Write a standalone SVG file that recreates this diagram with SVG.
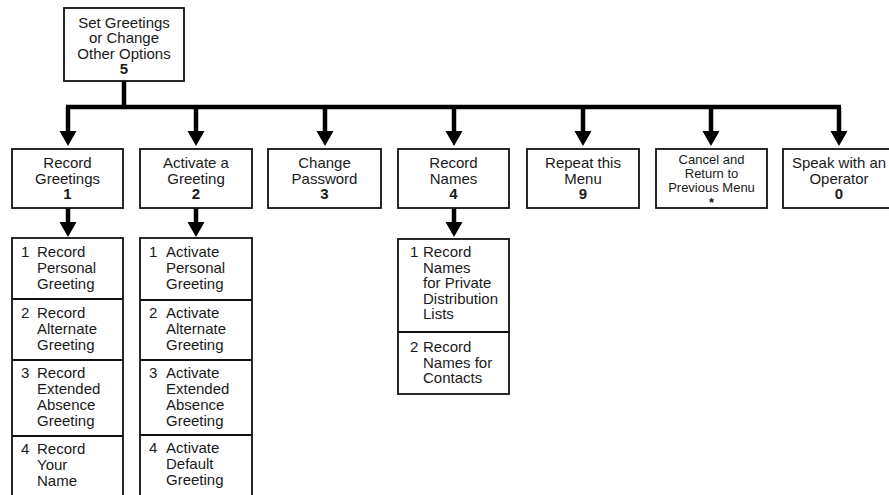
<svg xmlns="http://www.w3.org/2000/svg" width="889" height="495" viewBox="0 0 889 495">
<style>
  .box{fill:#fff;stroke:#111;stroke-width:1.8}
  .div{stroke:#111;stroke-width:1.8}
  text{font-family:"Liberation Sans",Arial,Helvetica,sans-serif;font-size:15px;fill:#1a1a1a}
  .c{text-anchor:middle}
  .b{font-weight:bold}
  .s{font-size:13px}
  .conn line{stroke:#000;stroke-width:4.5}
  .ah{fill:#000}
</style>
<defs>
  <path id="ah" class="ah" d="M-8.5,-15 L8.5,-15 L0,0 Z"/>
</defs>
<rect width="889" height="495" fill="#fff"/>

<g id="connectors" class="conn">
  <line x1="124" y1="81" x2="124" y2="109"/>
  <line x1="66" y1="107" x2="841" y2="107"/>
  <line x1="68" y1="107" x2="68" y2="132"/>
  <line x1="196" y1="107" x2="196" y2="132"/>
  <line x1="325" y1="107" x2="325" y2="132"/>
  <line x1="454" y1="107" x2="454" y2="132"/>
  <line x1="583" y1="107" x2="583" y2="132"/>
  <line x1="711" y1="107" x2="711" y2="132"/>
  <line x1="839" y1="107" x2="839" y2="132"/>
  <use href="#ah" x="68" y="146"/>
  <use href="#ah" x="196" y="146"/>
  <use href="#ah" x="325" y="146"/>
  <use href="#ah" x="454" y="146"/>
  <use href="#ah" x="583" y="146"/>
  <use href="#ah" x="711" y="146"/>
  <use href="#ah" x="839" y="146"/>
  <line x1="68" y1="208" x2="68" y2="223"/>
  <line x1="196" y1="208" x2="196" y2="223"/>
  <line x1="454" y1="208" x2="454" y2="223"/>
  <use href="#ah" x="68" y="237"/>
  <use href="#ah" x="196" y="237"/>
  <use href="#ah" x="454" y="237"/>
</g>

<g id="n-root">
  <rect class="box" x="64" y="8" width="120" height="73"/>
  <text class="c" x="124" y="27.5">Set Greetings</text>
  <text class="c" x="124" y="43">or Change</text>
  <text class="c" x="124" y="58.5">Other Options</text>
  <text class="c b" x="124" y="74">5</text>
</g>

<g id="n1">
  <rect class="box" x="12" y="149" width="111" height="59"/>
  <text class="c" x="67.5" y="168">Record</text>
  <text class="c" x="67.5" y="183.5">Greetings</text>
  <text class="c b" x="67.5" y="199">1</text>
</g>
<g id="n2">
  <rect class="box" x="140" y="149" width="112" height="59"/>
  <text class="c" x="196" y="168">Activate a</text>
  <text class="c" x="196" y="183.5">Greeting</text>
  <text class="c b" x="196" y="199">2</text>
</g>
<g id="n3">
  <rect class="box" x="268" y="149" width="113" height="59"/>
  <text class="c" x="324.5" y="168">Change</text>
  <text class="c" x="324.5" y="183.5">Password</text>
  <text class="c b" x="324.5" y="199">3</text>
</g>
<g id="n4">
  <rect class="box" x="398" y="149" width="111" height="59"/>
  <text class="c" x="453.5" y="168">Record</text>
  <text class="c" x="453.5" y="183.5">Names</text>
  <text class="c b" x="453.5" y="199">4</text>
</g>
<g id="n9">
  <rect class="box" x="527" y="149" width="112" height="59"/>
  <text class="c" x="583" y="168">Repeat this</text>
  <text class="c" x="583" y="183.5">Menu</text>
  <text class="c b" x="583" y="199">9</text>
</g>
<g id="nstar">
  <rect class="box" x="656" y="149" width="111" height="59"/>
  <text class="c s" x="711.5" y="163.5">Cancel and</text>
  <text class="c s" x="711.5" y="177.5">Return to</text>
  <text class="c s" x="711.5" y="191.5">Previous Menu</text>
  <text class="c b s" x="711.5" y="207">*</text>
</g>
<g id="n0">
  <rect class="box" x="783" y="149" width="112" height="59"/>
  <text class="c" x="839" y="168">Speak with an</text>
  <text class="c" x="839" y="183.5">Operator</text>
  <text class="c b" x="839" y="199">0</text>
</g>

<g id="n1-sub">
  <rect class="box" x="12" y="238" width="111" height="270"/>
  <line class="div" x1="12" y1="299" x2="123" y2="299"/>
  <line class="div" x1="12" y1="360" x2="123" y2="360"/>
  <line class="div" x1="12" y1="436" x2="123" y2="436"/>
  <text x="21" y="257">1</text><text x="37" y="257">Record</text>
  <text x="37" y="273">Personal</text>
  <text x="37" y="289">Greeting</text>
  <text x="21" y="318">2</text><text x="37" y="318">Record</text>
  <text x="37" y="334">Alternate</text>
  <text x="37" y="350">Greeting</text>
  <text x="21" y="378">3</text><text x="37" y="378">Record</text>
  <text x="37" y="394">Extended</text>
  <text x="37" y="410">Absence</text>
  <text x="37" y="426">Greeting</text>
  <text x="21" y="454">4</text><text x="37" y="454">Record</text>
  <text x="37" y="470">Your</text>
  <text x="37" y="486">Name</text>
</g>

<g id="n2-sub">
  <rect class="box" x="140" y="238" width="112" height="270"/>
  <line class="div" x1="140" y1="300" x2="252" y2="300"/>
  <line class="div" x1="140" y1="360" x2="252" y2="360"/>
  <line class="div" x1="140" y1="435" x2="252" y2="435"/>
  <text x="149" y="257">1</text><text x="166" y="257">Activate</text>
  <text x="166" y="273">Personal</text>
  <text x="166" y="289">Greeting</text>
  <text x="149" y="318">2</text><text x="166" y="318">Activate</text>
  <text x="166" y="334">Alternate</text>
  <text x="166" y="350">Greeting</text>
  <text x="149" y="378">3</text><text x="166" y="378">Activate</text>
  <text x="166" y="394">Extended</text>
  <text x="166" y="410">Absence</text>
  <text x="166" y="426">Greeting</text>
  <text x="149" y="453">4</text><text x="166" y="453">Activate</text>
  <text x="166" y="469">Default</text>
  <text x="166" y="485">Greeting</text>
</g>

<g id="n4-sub">
  <rect class="box" x="398" y="239" width="111" height="155"/>
  <line class="div" x1="398" y1="332" x2="509" y2="332"/>
  <text x="410" y="257">1</text><text x="423" y="257">Record</text>
  <text x="423" y="272.5">Names</text>
  <text x="423" y="288">for Private</text>
  <text x="423" y="303.5">Distribution</text>
  <text x="423" y="319">Lists</text>
  <text x="410" y="352">2</text><text x="423" y="352">Record</text>
  <text x="423" y="367.5">Names for</text>
  <text x="423" y="383">Contacts</text>
</g>
</svg>
